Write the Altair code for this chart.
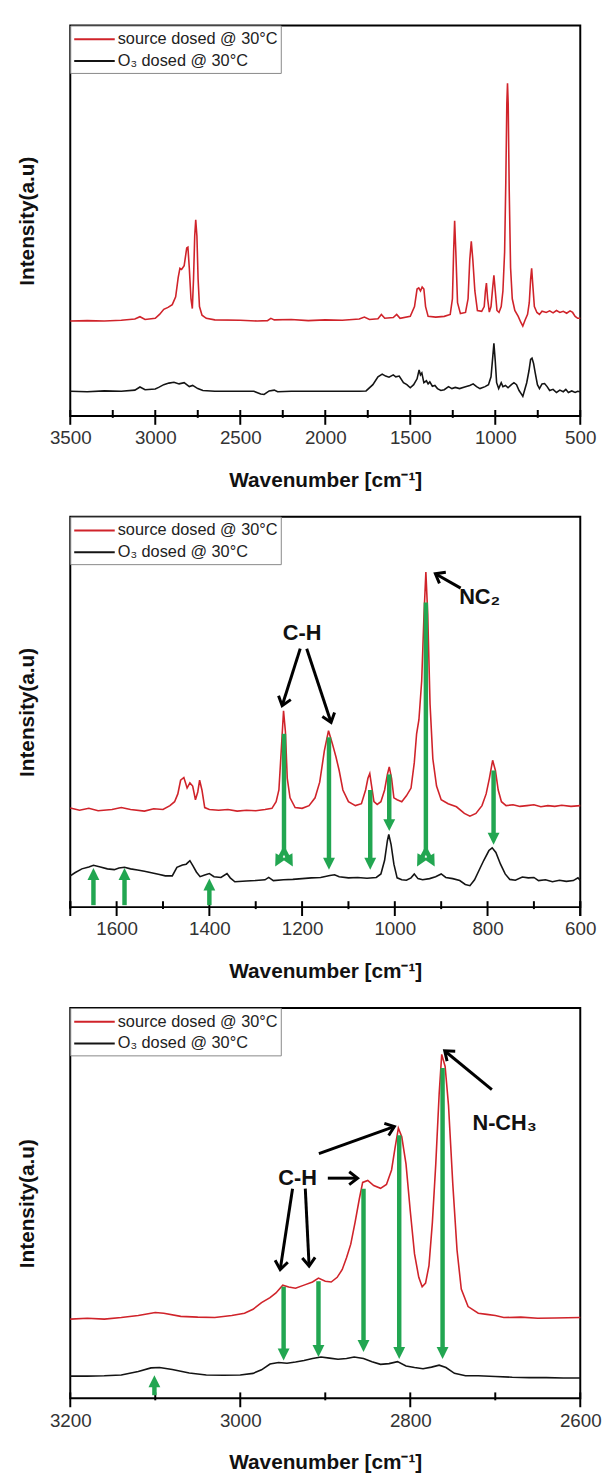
import math
import altair as alt
import pandas as pd

# ---------------- data ----------------
SRC = "source dosed @ 30°C"
O3 = "O₃ dosed @ 30°C"
X_TITLE = "Wavenumber [cm⁻¹]"
Y_TITLE = "Intensity(a.u)"

# Panel 1 : 3500 - 500 cm-1  (wavenumber, intensity)
p1_src = [(3500, 24.3), (3400, 24.4), (3300, 24.3), (3200, 24.5), (3120, 24.8), (3090, 25.4), (3060, 24.7),
          (3000, 25.0), (2975, 26.0), (2950, 27.3), (2925, 27.8), (2900, 28.5), (2880, 30.5), (2865, 35.5),
          (2855, 37.8), (2845, 37.5), (2830, 38.5), (2815, 43.0), (2808, 43.2), (2800, 38.0), (2790, 30.0),
          (2782, 27.5), (2775, 35.0), (2768, 46.0), (2762, 50.2), (2755, 46.0), (2748, 35.0), (2740, 28.0),
          (2725, 25.8), (2700, 25.0), (2650, 24.6), (2500, 24.5), (2400, 24.3), (2340, 24.4), (2320, 25.0),
          (2300, 24.6), (2200, 24.7), (2100, 24.4), (2000, 24.6), (1900, 24.5), (1800, 24.8), (1770, 25.3),
          (1740, 24.7), (1690, 24.9), (1670, 26.0), (1650, 25.0), (1600, 25.2), (1580, 26.0), (1560, 25.0),
          (1500, 25.5), (1475, 28.0), (1460, 32.5), (1450, 32.8), (1440, 32.0), (1430, 33.0), (1420, 32.5),
          (1410, 28.0), (1395, 25.5), (1350, 25.3), (1300, 25.5), (1265, 26.0), (1252, 30.0), (1245, 42.0),
          (1239, 50.0), (1232, 42.0), (1222, 29.0), (1205, 26.2), (1175, 26.5), (1160, 30.0), (1150, 40.0),
          (1141, 44.7), (1132, 40.0), (1120, 32.0), (1105, 27.0), (1080, 26.8), (1065, 28.0), (1058, 32.0),
          (1052, 34.0), (1045, 30.0), (1035, 26.6), (1025, 28.0), (1015, 33.0), (1008, 36.0), (1000, 32.0),
          (990, 27.0), (978, 26.5), (965, 28.0), (955, 32.0), (945, 42.0), (938, 60.0), (932, 80.0),
          (928, 85.2), (924, 80.0), (918, 58.0), (910, 38.0), (900, 30.0), (885, 27.0), (865, 25.5),
          (850, 24.0), (838, 23.0), (825, 24.5), (810, 26.0), (800, 29.0), (792, 35.0), (786, 37.8),
          (780, 34.0), (770, 28.0), (755, 26.5), (740, 26.0), (725, 26.8), (700, 26.5), (680, 26.9),
          (660, 26.4), (640, 27.0), (620, 26.5), (600, 26.8), (580, 26.3), (560, 26.9), (545, 26.5),
          (530, 25.5), (515, 25.0), (500, 25.0)]
p1_o3 = [(3500, 6.3), (3400, 6.2), (3300, 6.4), (3200, 6.3), (3120, 6.6), (3090, 7.4), (3060, 6.7),
         (3000, 6.9), (2980, 7.3), (2950, 8.0), (2920, 8.4), (2890, 8.6), (2860, 8.2), (2830, 8.5),
         (2800, 7.5), (2780, 7.8), (2750, 7.0), (2720, 6.5), (2650, 6.3), (2500, 6.3), (2420, 6.3),
         (2380, 5.6), (2360, 5.5), (2330, 6.4), (2300, 6.6), (2280, 6.2), (2200, 6.3), (2100, 6.3),
         (2000, 6.3), (1900, 6.3), (1800, 6.3), (1760, 6.4), (1720, 8.0), (1690, 10.0), (1665, 10.7),
         (1645, 10.2), (1625, 9.9), (1600, 10.5), (1585, 10.0), (1565, 10.2), (1540, 8.5), (1520, 8.0),
         (1500, 7.2), (1480, 8.0), (1460, 9.5), (1448, 11.8), (1440, 10.5), (1432, 11.0), (1420, 8.5),
         (1405, 9.0), (1395, 8.2), (1385, 8.7), (1370, 7.6), (1355, 7.8), (1340, 7.0), (1320, 6.5),
         (1300, 6.7), (1275, 7.5), (1255, 7.0), (1235, 7.3), (1210, 7.0), (1180, 7.4), (1150, 7.8),
         (1130, 8.2), (1110, 7.5), (1090, 7.0), (1060, 7.5), (1040, 8.0), (1025, 10.0), (1015, 15.0),
         (1008, 18.6), (1000, 14.0), (992, 8.5), (980, 7.0), (965, 8.5), (955, 7.5), (940, 7.8),
         (925, 7.2), (905, 8.0), (890, 8.5), (875, 8.0), (860, 6.5), (845, 5.5), (838, 5.0), (828, 6.5),
         (815, 8.5), (802, 11.5), (792, 14.5), (784, 14.8), (775, 13.5), (765, 11.0), (752, 8.0),
         (740, 7.0), (725, 8.2), (710, 8.3), (695, 7.5), (680, 6.5), (660, 6.8), (640, 6.0), (620, 6.6),
         (600, 6.2), (585, 6.8), (570, 6.0), (550, 6.4), (530, 6.0), (515, 6.3), (500, 6.2)]

# Panel 2 : 1700 - 600 cm-1
p2_src = [(1700, 25.4), (1680, 24.8), (1660, 25.3), (1640, 24.7), (1610, 25.0), (1590, 25.5), (1570, 25.0),
          (1540, 24.6), (1520, 25.2), (1500, 25.0), (1485, 26.0), (1475, 27.0), (1468, 29.0), (1462, 32.5),
          (1455, 33.2), (1448, 30.5), (1442, 31.8), (1436, 31.0), (1430, 27.5), (1425, 29.5), (1421, 32.5),
          (1416, 30.0), (1410, 25.5), (1400, 25.0), (1380, 24.8), (1360, 25.0), (1340, 24.6), (1320, 24.8),
          (1300, 24.7), (1280, 25.0), (1265, 25.3), (1256, 27.0), (1250, 30.0), (1245, 40.0), (1240, 50.3),
          (1236, 45.0), (1232, 33.0), (1226, 28.0), (1215, 25.5), (1200, 25.3), (1185, 26.0), (1172, 28.0),
          (1162, 32.0), (1152, 40.0), (1143, 45.2), (1135, 42.0), (1127, 38.5), (1120, 35.0), (1112, 30.0),
          (1100, 27.0), (1085, 26.0), (1072, 26.5), (1063, 30.0), (1058, 33.0), (1054, 34.2), (1050, 31.0),
          (1045, 27.0), (1038, 26.3), (1030, 27.0), (1022, 30.0), (1016, 34.0), (1012, 35.9), (1007, 33.0),
          (1002, 28.0), (995, 27.5), (985, 27.0), (975, 28.5), (965, 30.5), (958, 37.0), (953, 44.4),
          (948, 48.0), (942, 58.0), (937, 75.0), (933, 85.8), (929, 75.0), (924, 52.0), (918, 38.0),
          (910, 31.0), (900, 27.5), (885, 26.5), (867, 25.7), (850, 24.0), (838, 23.3), (825, 24.0),
          (812, 26.0), (803, 29.0), (796, 33.0), (789, 37.6), (783, 35.0), (777, 30.0), (770, 27.0),
          (760, 26.0), (745, 26.2), (730, 25.8), (715, 26.0), (700, 26.2), (685, 25.7), (670, 26.0),
          (655, 25.8), (640, 26.1), (620, 25.8), (600, 26.0)]
p2_o3 = [(1700, 8.0), (1690, 8.8), (1675, 9.8), (1660, 10.3), (1650, 10.7), (1635, 10.3), (1620, 9.8),
         (1605, 9.6), (1595, 10.0), (1583, 10.2), (1570, 9.8), (1555, 9.5), (1540, 9.2), (1525, 8.8),
         (1510, 8.4), (1495, 8.0), (1480, 8.0), (1470, 10.2), (1458, 10.8), (1450, 11.0), (1442, 11.9),
         (1435, 10.5), (1428, 9.0), (1420, 7.8), (1410, 8.2), (1400, 8.6), (1390, 7.8), (1375, 7.6),
         (1362, 8.6), (1355, 7.5), (1345, 6.5), (1320, 6.7), (1300, 6.8), (1280, 7.0), (1272, 7.6),
         (1262, 6.8), (1240, 7.0), (1220, 7.1), (1200, 7.3), (1180, 7.5), (1160, 7.6), (1140, 8.1),
         (1130, 8.3), (1120, 7.8), (1100, 7.5), (1080, 7.6), (1060, 7.4), (1040, 7.6), (1030, 8.5),
         (1022, 12.0), (1016, 17.0), (1013, 18.6), (1008, 16.0), (1002, 11.0), (995, 7.5), (985, 7.0),
         (975, 6.9), (965, 7.5), (958, 8.5), (950, 7.3), (940, 7.0), (925, 7.3), (912, 7.8), (900, 8.5),
         (890, 7.6), (875, 7.3), (860, 6.8), (848, 5.8), (838, 5.5), (828, 7.0), (818, 9.5), (808, 12.0),
         (797, 14.5), (790, 15.2), (782, 14.0), (772, 11.0), (762, 8.5), (752, 7.1), (740, 6.9),
         (725, 7.7), (712, 7.5), (700, 7.6), (690, 6.8), (675, 7.0), (660, 6.5), (645, 6.9), (630, 6.6),
         (615, 6.8), (605, 7.5), (600, 6.8)]

# Panel 3 : 3200 - 2600 cm-1
p3_src = [(3200, 20.3), (3180, 20.5), (3160, 20.3), (3140, 20.7), (3120, 21.2), (3100, 22.0), (3090, 21.8),
          (3070, 21.0), (3050, 20.8), (3030, 20.7), (3010, 21.2), (2995, 21.8), (2985, 22.8), (2975, 24.5),
          (2965, 25.8), (2958, 27.0), (2950, 29.0), (2943, 28.5), (2935, 28.2), (2925, 29.0), (2915, 29.8),
          (2908, 30.8), (2900, 30.0), (2893, 29.8), (2886, 31.0), (2880, 33.0), (2875, 36.0), (2870, 39.5),
          (2865, 45.0), (2860, 51.0), (2856, 55.3), (2850, 55.8), (2843, 54.5), (2835, 53.8), (2828, 54.8),
          (2822, 58.5), (2818, 64.0), (2814, 69.2), (2810, 67.0), (2805, 60.0), (2800, 48.0), (2795, 37.0),
          (2790, 31.0), (2786, 28.6), (2782, 29.5), (2778, 34.0), (2774, 45.0), (2770, 60.0), (2766, 78.0),
          (2763, 88.1), (2759, 85.0), (2755, 75.0), (2750, 55.0), (2745, 38.0), (2740, 28.0), (2732, 23.5),
          (2720, 21.8), (2710, 21.5), (2700, 21.2), (2690, 20.7), (2670, 20.8), (2650, 20.5), (2630, 20.6),
          (2600, 20.7)]
p3_o3 = [(3200, 5.7), (3180, 5.7), (3160, 5.8), (3140, 6.0), (3120, 6.9), (3105, 7.8), (3095, 7.9),
         (3080, 7.4), (3060, 6.5), (3040, 6.0), (3020, 5.9), (3000, 6.0), (2985, 6.4), (2975, 7.3),
         (2965, 8.8), (2955, 9.2), (2945, 9.0), (2935, 9.3), (2925, 9.7), (2915, 10.2), (2905, 10.6),
         (2895, 10.3), (2885, 10.0), (2875, 10.2), (2866, 10.6), (2855, 10.2), (2845, 9.4), (2835, 8.7),
         (2825, 8.9), (2815, 9.4), (2805, 8.3), (2795, 7.9), (2785, 7.6), (2775, 8.0), (2766, 8.5),
         (2758, 7.9), (2748, 6.4), (2735, 5.8), (2720, 5.8), (2700, 5.6), (2680, 5.4), (2660, 5.3),
         (2640, 5.3), (2620, 5.2), (2600, 5.2)]

# axis tick values
p1_labels = [3500, 3000, 2500, 2000, 1500, 1000, 500]
p1_minor = [3250, 2750, 2250, 1750, 1250, 750]
p2_labels = [1600, 1400, 1200, 1000, 800, 600]
p2_minor = [1700, 1500, 1300, 1100, 900, 700]
p3_labels = [3200, 3000, 2800, 2600]
p3_minor = [3100, 2900, 2700]

# green arrows: (x1, y1, x2, y2, has_head)
p2_green = [(1239, 44.4, 1239, 14.6, 0), (1239, 14.6, 1258, 10.4, 1), (1239, 14.6, 1220, 10.4, 1),
            (1142, 43.5, 1142, 9.6, 1), (1053, 30.0, 1053, 9.6, 1), (1012, 34.0, 1012, 19.5, 1),
            (933, 78.0, 933, 14.6, 0), (933, 14.6, 952, 10.4, 1), (933, 14.6, 914, 10.4, 1),
            (787, 35.0, 787, 16.0, 1),
            (1650, 0.5, 1650, 10.0, 1), (1583, 0.5, 1583, 10.0, 1), (1400, 0.5, 1400, 7.3, 1)]
p3_green = [(2949, 28.6, 2949, 9.7, 1), (2908, 30.0, 2908, 10.6, 1), (2855, 53.7, 2855, 11.9, 1),
            (2813, 67.4, 2813, 10.1, 1), (2762, 84.6, 2762, 10.1, 1), (3101, 0.8, 3101, 5.9, 1)]

# black annotation arrows: (x1, y1, x2, y2, has_head)
p2_black = [(1204, 66.2, 1243, 51.6, 1), (1190, 66.2, 1137.5, 47.3, 1), (858, 81.7, 912.5, 85.4, 1)]
p3_black = [(2938.5, 53.7, 2953, 33.0, 1), (2923.5, 53.7, 2919, 33.9, 1), (2897, 56.4, 2862, 56.4, 1),
            (2907.5, 62.7, 2818.7, 69.6, 1), (2704, 79.1, 2759.5, 89.0, 1)]

# annotation texts: (text, x, y)
p2_text = [("C-H", 1200, 70.2), ("NC₂", 817, 79.5)]
p3_text = [("C-H", 2932.6, 56.4), ("N-CH₃", 2689, 70.5)]

# ---------------- styling ----------------
W, H = 516, 395
RED = "#d0232a"
BLACK = "#141414"
GREEN = "#22a651"
FONT = "Liberation Sans"
TRI = "M 0 0 L 1 2 L -1 2 Z"
CHEV = "M -1 1.3 L 0 0 L 1 1.3"
LEG_LINE = "M -1 0 L 3.1 0"   # legend line, drawn longer than its nominal symbol box

X_AXIS_OPTS = dict(format="d", title=X_TITLE, labelFont=FONT, labelFontSize=19,
                   labelColor="#333", labelPadding=13, ticks=False, tickSize=0, domain=False, grid=False,
                   labelOverlap=False, labelFlush=False, titleFont=FONT, titleFontSize=21,
                   titleFontWeight="bold", titleColor="#111", titlePadding=22)
Y_AXIS = alt.Axis(title=Y_TITLE, labels=False, ticks=False, tickSize=0, domain=False, grid=False,
                  titleFont=FONT, titleFontSize=21, titleFontWeight="bold", titleColor="#111",
                  titlePadding=33)


def arrow_frames(segs, lo, hi, shorten):
    sx = W / (hi - lo)
    sy = H / 100.0
    lines, heads = [], []
    for (x1, y1, x2, y2, head) in segs:
        dxp = -(x2 - x1) * sx
        dyp = -(y2 - y1) * sy
        length = math.hypot(dxp, dyp)
        ang = math.degrees(math.atan2(dxp, -dyp)) % 360
        ex, ey = x2, y2
        if head:
            f = max(0.0, (length - shorten) / length)
            ex, ey = x1 + (x2 - x1) * f, y1 + (y2 - y1) * f
            heads.append({"x": x2, "y": y2, "ang": ang})
        lines.append({"x1": x1, "y1": y1, "x2": ex, "y2": ey})
    return pd.DataFrame(lines), pd.DataFrame(heads)


def panel(lo, hi, src, o3, labels, minor, green, black, texts):
    xs = alt.Scale(domain=[lo, hi], reverse=True, nice=False, zero=False)
    ys = alt.Scale(domain=[0, 100], nice=False, zero=False)
    xa = alt.Axis(values=labels, **X_AXIS_OPTS)

    def X(f):
        return alt.X(f, scale=xs, axis=xa)

    def Y(f):
        return alt.Y(f, scale=ys, axis=Y_AXIS)

    df = pd.DataFrame(
        [{"wn": w, "val": v, "series": SRC} for w, v in src]
        + [{"wn": w, "val": v, "series": O3} for w, v in o3]
    )
    lines = alt.Chart(df).mark_line(strokeWidth=1.6).encode(
        x=X("wn:Q"),
        y=Y("val:Q"),
        color=alt.Color("series:N", scale=alt.Scale(domain=[SRC, O3], range=[RED, BLACK]),
                        legend=alt.Legend(title=None, orient="top-left", offset=0, padding=3,
                                          strokeColor="#888", fillColor="white", symbolType=LEG_LINE,
                                          symbolSize=400, symbolStrokeWidth=2, labelFont=FONT,
                                          labelFontSize=16.5, labelColor="#222", labelOffset=23,
                                          rowPadding=2, labelLimit=400, cornerRadius=0)),
    )
    layers = [lines]
    tick_major = pd.DataFrame({"t": labels + ([hi, lo] if hi not in labels else [])})
    tick_minor = pd.DataFrame({"t": minor})
    layers.append(alt.Chart(tick_major).mark_rule(color="black", strokeWidth=2).encode(
        x=X("t:Q"), y=alt.value(H - 6), y2=alt.value(H + 9)))
    layers.append(alt.Chart(tick_minor).mark_rule(color="black", strokeWidth=2).encode(
        x=X("t:Q"), y=alt.value(H - 6), y2=alt.value(H + 2)))
    if green:
        gl, gh = arrow_frames(green, lo, hi, 8)
        layers.append(alt.Chart(gl).mark_rule(color=GREEN, strokeWidth=4.5).encode(
            x=X("x1:Q"), x2="x2:Q", y=Y("y1:Q"), y2="y2:Q"))
        layers.append(alt.Chart(gh).mark_point(shape=TRI, filled=True, size=144, color=GREEN,
                                               opacity=1, strokeWidth=0).encode(
            x=X("x:Q"), y=Y("y:Q"), angle=alt.Angle("ang:Q", scale=None)))
    if black:
        bl, bh = arrow_frames(black, lo, hi, 1)
        layers.append(alt.Chart(bl).mark_rule(color="black", strokeWidth=3).encode(
            x=X("x1:Q"), x2="x2:Q", y=Y("y1:Q"), y2="y2:Q"))
        layers.append(alt.Chart(bh).mark_point(shape=CHEV, filled=False, size=169, color="black",
                                               opacity=1, strokeWidth=3).encode(
            x=X("x:Q"), y=Y("y:Q"), angle=alt.Angle("ang:Q", scale=None)))
    if texts:
        tdf = pd.DataFrame([{"label": t, "x": x, "y": y} for t, x, y in texts])
        layers.append(alt.Chart(tdf).mark_text(font=FONT, fontSize=22, fontWeight="bold",
                                               color="#111", align="center", baseline="middle").encode(
            x=X("x:Q"), y=Y("y:Q"), text="label:N"))
    return alt.layer(*layers).properties(width=W, height=H)


c1 = panel(500, 3500, p1_src, p1_o3, p1_labels, p1_minor, [], [], [])
c2 = panel(600, 1700, p2_src, p2_o3, p2_labels, p2_minor, p2_green, p2_black, p2_text)
c3 = panel(2600, 3200, p3_src, p3_o3, p3_labels, p3_minor, p3_green, p3_black, p3_text)

chart = alt.vconcat(c1, c2, c3, spacing=24).resolve_scale(color="independent").properties(
    padding={"left": 8, "top": 7, "right": 0, "bottom": 5},
    background="white",
).configure_view(stroke="black", strokeWidth=2)

chart.save("out.html", embed_options={"renderer": "svg", "actions": False})
